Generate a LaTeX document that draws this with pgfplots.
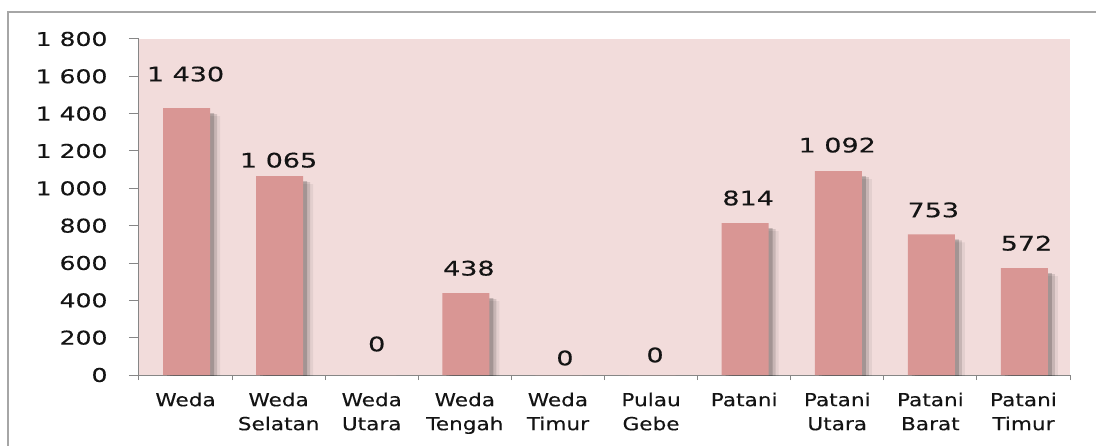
\documentclass[border=0pt]{standalone}
\usepackage{pgfplots}
\pgfplotsset{compat=1.18}
\usepackage{pgfplotstable}
\usepackage{fontspec}
\setmainfont{DejaVu Sans}[FakeStretch=1.2, FakeBold=0.3]
\newfontfamily\tickfont{DejaVu Sans}[FakeStretch=1.32, FakeBold=0.3]
\newfontfamily\labfont{DejaVu Sans}[FakeStretch=1.35, FakeBold=0.3]
\definecolor{bgpink}{HTML}{F2DCDB}
\definecolor{barpink}{HTML}{D99694}
\definecolor{axgray}{HTML}{868686}
\definecolor{txt}{HTML}{141414}
\pgfplotsset{/pgf/number format/assume math mode=true}

\pgfplotstableread{
x y dx dy
0 1430 0 34
1 1065 0 16
2 0 5 31
3 438 4 25
4 0 7 17
5 0 4 20
6 814 4 25
7 1092 0 26
8 753 3 24.5
9 572 3 25
}\datatable

\begin{document}
\begin{tikzpicture}
\useasboundingbox (-139bp,-71bp) rectangle (957bp,375bp);
\draw[color=black!35, line width=1.2bp] (-131bp,-90bp) -- (-131bp,363bp) -- (980bp,363bp);
\begin{axis}[
  at={(0,0)}, anchor=south west,
  scale only axis, width=931bp, height=336bp,
  xmin=-0.5, xmax=9.5, ymin=0, ymax=1800,
  axis lines*=left,
  axis line style={axgray, line width=1bp},
  axis background/.style={fill=bgpink},
  ytick={0,200,...,1800},
  xtick={0,...,9},
  xticklabels={Weda,Weda\\Selatan,Weda\\Utara,Weda\\Tengah,Weda\\Timur,Pulau\\Gebe,Patani,Patani\\Utara,Patani\\Barat,Patani\\Timur},
  minor xtick={-0.5,0.5,...,9.5},
  tick align=outside,
  major tick length=10bp,
  minor tick length=5bp,
  major x tick style={draw=none},
  tick style={axgray, line width=1bp},
  yticklabel style={font=\tickfont\fontsize{19bp}{22bp}\selectfont, text=txt, xshift=-18bp, /pgf/number format/1000 sep={\ }},
  xticklabel style={font=\fontsize{18bp}{24bp}\selectfont, text=txt, align=center, anchor=north, yshift=-4bp},
]
\addplot[ybar, bar width=47bp, bar shift=11bp, yshift=-8bp, draw=none, fill=black, opacity=0.06] table[x=x,y=y] {\datatable};
\addplot[ybar, bar width=47bp, bar shift=8bp, yshift=-6bp, draw=none, fill=black, opacity=0.12] table[x=x,y=y] {\datatable};
\addplot[ybar, bar width=47bp, bar shift=5bp, yshift=-5bp, draw=none, fill=black, opacity=0.18] table[x=x,y=y] {\datatable};
\addplot[ybar, bar width=47bp, bar shift=1bp, draw=none, fill=barpink,
  nodes near coords, point meta=y,
  visualization depends on={\thisrow{dx} \as \dx},
  visualization depends on={\thisrow{dy} \as \dy},
  every node near coord/.append style={anchor=center, xshift=\dx bp, yshift=\dy bp, font=\labfont\fontsize{20bp}{24bp}\selectfont, text=txt, /pgf/number format/1000 sep={\ }}
] table[x=x,y=y] {\datatable};
\end{axis}
\end{tikzpicture}
\end{document}
